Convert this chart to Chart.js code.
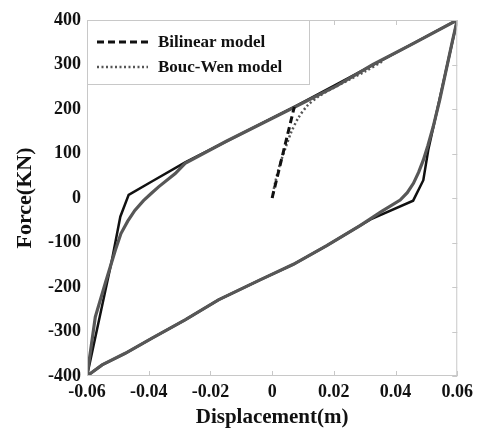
<!DOCTYPE html>
<html>
<head>
<meta charset="utf-8">
<script src="https://cdn.jsdelivr.net/npm/chart.js@4.4.1/dist/chart.umd.min.js"></script>
<style>
  html, body { margin: 0; padding: 0; background: #fff; }
  #wrap { width: 479px; height: 432px; }
</style>
</head>
<body>
<div id="wrap"><canvas id="chart" width="479" height="432"></canvas></div>
<script>
// Axis ticks
const xTicks = [-0.06, -0.04, -0.02, 0, 0.02, 0.04, 0.06];
const yTicks = [-400, -300, -200, -100, 0, 100, 200, 300, 400];

// Bilinear model - monotonic loading (dashed)
const bilinearInitX = [0, 0.0072];
const bilinearInitY = [0, 205];

// Bouc-Wen model - monotonic loading (dotted)
const boucInitX = [0, 0.001, 0.0025, 0.0043, 0.0062, 0.0085, 0.0115, 0.015, 0.02, 0.025, 0.03, 0.036];
const boucInitY = [0, 35, 75, 112, 148, 180, 208, 228, 248, 266, 284, 308];

// Bilinear hysteresis loop (black solid)
const bilinearLoopX = [-0.06, -0.0519, -0.0492, -0.0465, -0.039, -0.0282, 0.0075, 0.06,
  0.0506, 0.049, 0.0457, 0.0319, 0.0285, 0.0177, 0.0069, -0.0039, -0.0174, -0.0282, -0.0389, -0.0476, -0.0551, -0.06];
const bilinearLoopY = [-400, -139, -42, 7, 37, 80, 206, 400,
  108, 40, -6, -48, -62, -107, -149, -184, -229, -274, -315, -349, -375, -400];

// Bouc-Wen hysteresis loop (gray solid)
const boucLoopX = [-0.06, -0.0573, -0.0541, -0.0508, -0.049, -0.0468, -0.0445, -0.0417, -0.0392, -0.0368, -0.0314, -0.0282,
  -0.015, 0.0075, 0.0209, 0.0327, 0.0457, 0.06,
  0.0585, 0.0571, 0.0543, 0.0522, 0.0505, 0.049, 0.0475, 0.0458, 0.0438, 0.0415, 0.0355, 0.0285, 0.0177, 0.0069,
  -0.0039, -0.0174, -0.0282, -0.0389, -0.0476, -0.0551, -0.06];
const boucLoopY = [-400, -267, -192, -117, -80, -52, -28, -6, 10, 25, 55, 78,
  127, 205, 252, 300, 347, 400,
  355, 310, 220, 160, 118, 85, 58, 33, 12, -4.5, -30, -62, -107, -149,
  -184, -229, -274, -315, -349, -375, -400];

const SERIF = '"Liberation Serif", "DejaVu Serif", serif';

function toPoints(xs, ys) {
  return xs.map((x, i) => ({ x: x, y: ys[i] }));
}

// Frame plus inward tick marks on top, right and bottom edges
const frameTicks = {
  id: 'frameTicks',
  afterDatasetsDraw(chart) {
    const { ctx, chartArea: a, scales } = chart;
    ctx.save();
    ctx.strokeStyle = '#c8c8c8';
    ctx.lineWidth = 1;
    ctx.strokeRect(a.left + 0.5, a.top + 0.5, a.right - a.left - 1, a.bottom - a.top - 1);
    ctx.beginPath();
    for (const v of xTicks) {
      const px = Math.round(scales.x.getPixelForValue(v)) + 0.5;
      ctx.moveTo(px, a.bottom); ctx.lineTo(px, a.bottom - 5);
      ctx.moveTo(px, a.top); ctx.lineTo(px, a.top + 5);
    }
    for (const v of yTicks) {
      const py = Math.round(scales.y.getPixelForValue(v)) + 0.5;
      ctx.moveTo(a.right, py); ctx.lineTo(a.right - 5, py);
    }
    ctx.stroke();
    ctx.restore();
  }
};

// Legend box drawn inside the plot, top-left
const insideLegend = {
  id: 'insideLegend',
  afterDatasetsDraw(chart) {
    const { ctx, chartArea: a } = chart;
    const items = chart.data.datasets.filter(d => d.inLegend);
    const boxW = 222, boxH = 64;
    ctx.save();
    ctx.fillStyle = '#fff';
    ctx.fillRect(a.left, a.top, boxW, boxH);
    ctx.strokeStyle = '#c8c8c8';
    ctx.lineWidth = 1;
    ctx.strokeRect(a.left + 0.5, a.top + 0.5, boxW, boxH);
    ctx.font = 'bold 17px ' + SERIF;
    ctx.textBaseline = 'middle';
    items.forEach((d, i) => {
      const y = a.top + 22 + i * 25;
      ctx.strokeStyle = d.borderColor;
      ctx.lineWidth = d.borderWidth;
      ctx.setLineDash(d.borderDash || []);
      ctx.beginPath();
      ctx.moveTo(a.left + 10, y);
      ctx.lineTo(a.left + 61, y);
      ctx.stroke();
      ctx.setLineDash([]);
      ctx.fillStyle = '#111';
      ctx.fillText(d.label, a.left + 71, y + 1);
    });
    ctx.restore();
  }
};

new Chart(document.getElementById('chart'), {
  type: 'scatter',
  data: {
    datasets: [
      {
        label: 'Bilinear model',
        inLegend: true,
        data: toPoints(bilinearInitX, bilinearInitY),
        showLine: true,
        borderColor: '#111',
        borderWidth: 3,
        borderDash: [7, 4],
        pointRadius: 0,
        order: 1,
      },
      {
        label: 'Bouc-Wen model',
        inLegend: true,
        data: toPoints(boucInitX, boucInitY),
        showLine: true,
        borderColor: '#555',
        borderWidth: 2.5,
        borderDash: [2, 2.5],
        pointRadius: 0,
        tension: 0.3,
        order: 2,
      },
      {
        label: 'Bouc-Wen loop',
        data: toPoints(boucLoopX, boucLoopY),
        showLine: true,
        borderColor: '#575757',
        borderWidth: 3.2,
        pointRadius: 0,
        tension: 0,
        order: 3,
      },
      {
        label: 'Bilinear loop',
        data: toPoints(bilinearLoopX, bilinearLoopY),
        showLine: true,
        borderColor: '#111',
        borderWidth: 2.5,
        pointRadius: 0,
        order: 4,
      },
    ],
  },
  options: {
    responsive: false,
    animation: false,
    layout: { padding: { left: 4, right: 21, top: 20, bottom: 2 } },
    plugins: { legend: { display: false }, tooltip: { enabled: false } },
    scales: {
      x: {
        type: 'linear',
        min: -0.06,
        max: 0.06,
        afterBuildTicks: s => { s.ticks = xTicks.map(v => ({ value: v })); },
        afterFit: s => { s.height = 54; },
        grid: { display: false, drawTicks: false },
        border: { display: false },
        ticks: {
          color: '#111',
          font: { family: SERIF, size: 18, weight: 'bold' },
          padding: 6,
          maxRotation: 0,
          callback: v => (v === 0 ? '0' : v.toFixed(2)),
        },
        title: {
          display: true,
          text: 'Displacement(m)',
          color: '#111',
          font: { family: SERIF, size: 21, weight: 'bold' },
          padding: { top: 2, bottom: 0 },
        },
      },
      y: {
        type: 'linear',
        min: -400,
        max: 400,
        afterBuildTicks: s => { s.ticks = yTicks.map(v => ({ value: v })); },
        afterFit: s => { s.width = 83; },
        grid: { display: false, drawTicks: false },
        border: { display: false },
        ticks: {
          color: '#111',
          font: { family: SERIF, size: 18, weight: 'bold' },
          padding: 6,
        },
        title: {
          display: true,
          text: 'Force(KN)',
          color: '#111',
          font: { family: SERIF, size: 22, weight: 'bold' },
          padding: { top: 8, bottom: 0 },
        },
      },
    },
  },
  plugins: [frameTicks, insideLegend],
});
</script>
</body>
</html>
